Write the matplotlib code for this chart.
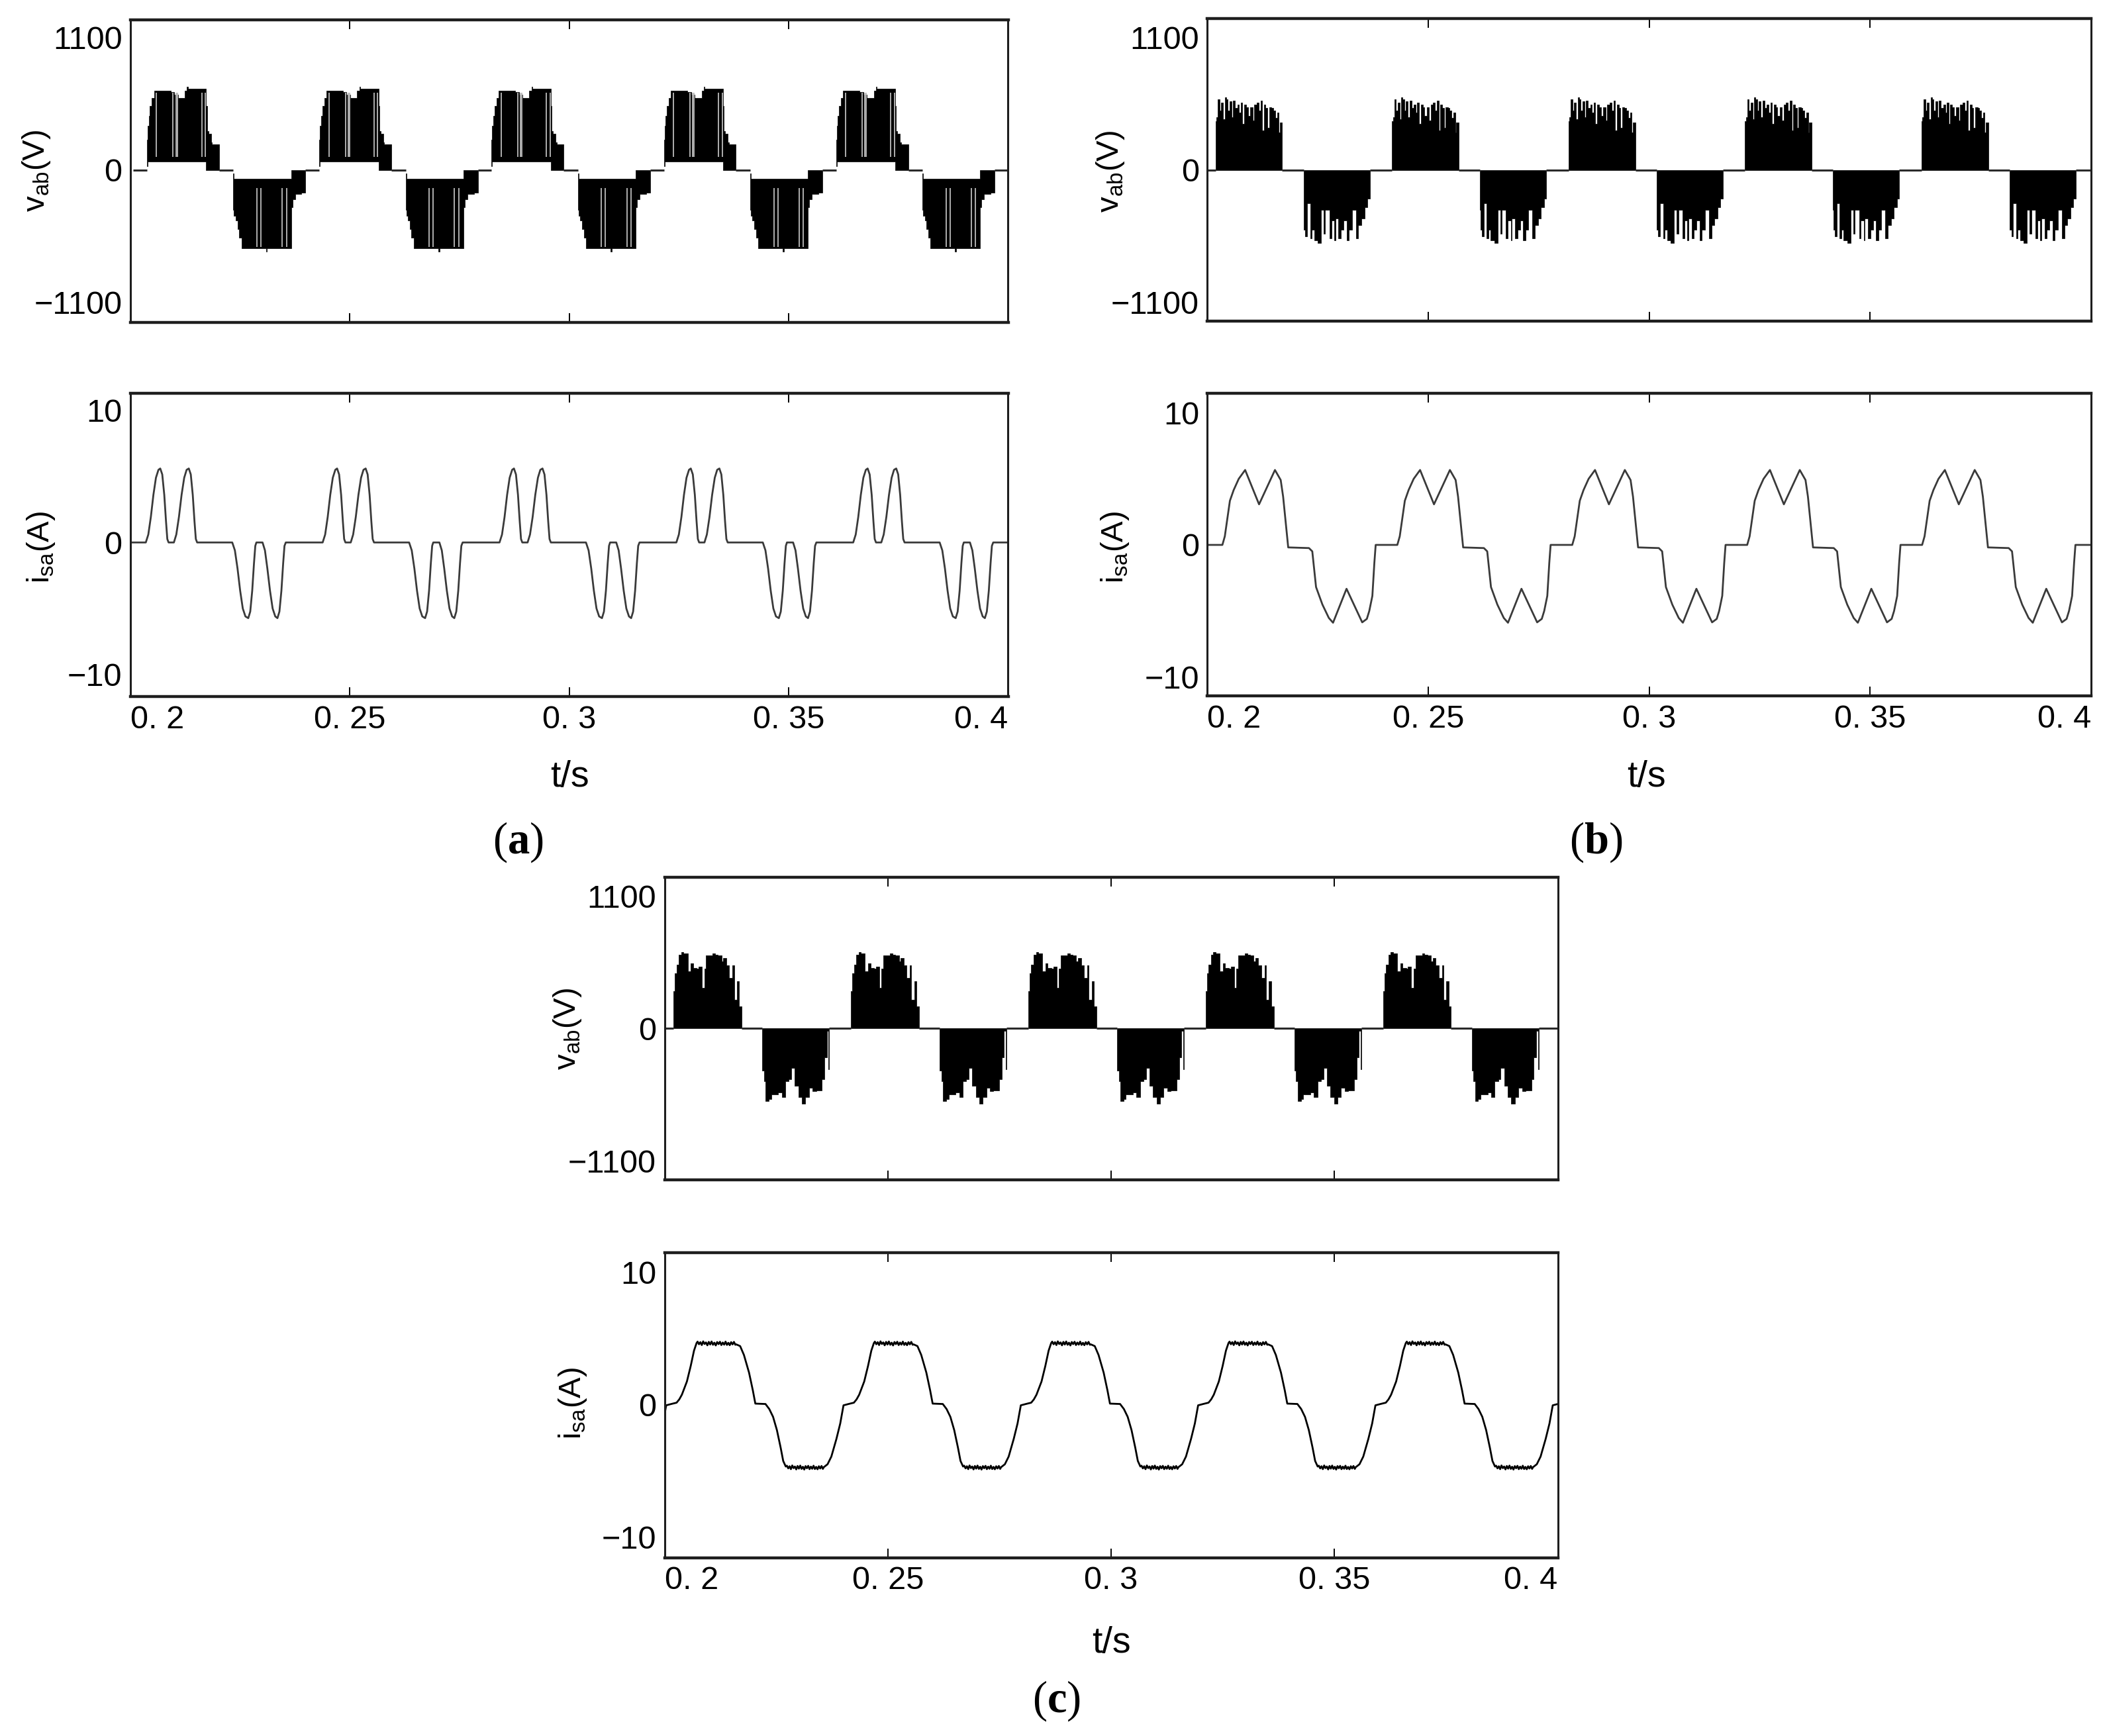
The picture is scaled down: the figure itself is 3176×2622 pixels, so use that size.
import numpy as np
import matplotlib
matplotlib.use('Agg')
import matplotlib.pyplot as plt

# figure size in pixels (dpi 100)
W, H = 3176, 2622
DPI = 100

plt.rcParams['font.family'] = 'Liberation Sans'
plt.rcParams['mathtext.fontset'] = 'custom'
plt.rcParams['mathtext.rm'] = 'Liberation Serif'
plt.rcParams['mathtext.bf'] = 'Liberation Serif:bold'

T_START, T_END = 0.2, 0.4
x_ticks = [0.2, 0.25, 0.3, 0.35, 0.4]
x_ticklabels = ['0. 2', '0. 25', '0. 3', '0. 35', '0. 4']
v_ticks = [-1100, 0, 1100]
v_ticklabels = ['\u22121100', '0', '1100']
i_ticks = [-10, 0, 10]
i_ticklabels = ['\u221210', '0', '10']

###############################
# (a) phase current, one period
###############################
# times in ms after t = 0.2 s, current in A
PERIOD_IA = 40.3
ia_t = [0, 3.5, 4.07, 4.65, 5.23, 5.81, 6.38, 6.79, 7.25, 7.71, 8.11, 8.40, 8.69,
        9.9, 10.45, 11.05, 11.65, 12.25, 12.8, 13.3, 13.75, 14.2, 14.6, 14.9, 15.2,
        23.2, 23.8, 24.4, 25.0, 25.6, 26.2, 26.85, 27.3, 27.75, 28.15, 28.45, 28.7,
        30.1, 30.65, 31.2, 31.8, 32.4, 33.0, 33.5, 33.95, 34.4, 34.8, 35.1, 35.4, 40.3]
ia_v = [0, 0, 0.6, 1.93, 3.6, 4.9, 5.5, 5.6, 5.15, 3.6, 1.57, 0.26, 0,
        0, 0.6, 1.93, 3.6, 4.9, 5.5, 5.6, 5.15, 3.6, 1.57, 0.26, 0,
        0, -0.6, -1.97, -3.65, -5.0, -5.6, -5.73, -5.23, -3.65, -1.58, -0.26, 0,
        0, -0.6, -1.97, -3.65, -5.0, -5.6, -5.73, -5.23, -3.65, -1.58, -0.26, 0, 0]

# (a) line voltage, one period: PWM blocks as envelopes (V)
PERIOD_VA = 39.25
va_pos_t = [3.79, 3.95, 4.2, 4.45, 4.9, 5.4, 9.2, 10.0, 10.8, 12.4, 12.9, 13.1,
            17.26, 17.5, 17.8, 18.4, 18.6, 20.22]
va_pos_hi = [250, 370, 450, 530, 600, 661, 650, 625, 597, 660, 693, 678,
             530, 322, 300, 229, 215, 0]
va_pos_lo = [30, 73, 73, 73, 73, 73, 73, 73, 73, 73, 73, 73, 0, 0, 0, 0, 0, 0]
va_neg_t = [23.45, 23.6, 24.0, 24.4, 24.8, 25.3, 30.9, 31.15, 36.65, 36.9, 37.5, 39.0, 39.9]
va_neg_lo = [-330, -380, -420, -490, -560, -650, -678, -650, -311, -245, -200, -190, 0]
va_neg_hi = [-30, -73, -73, -73, -73, -73, -73, -73, 0, 0, 0, 0, 0]
va_gaps_pos = [5.95, 9.72, 10.36, 10.69, 16.29, 17.1]
va_gaps_neg = [28.84, 29.76, 34.6, 35.58]

###############################
# (b)
###############################
PERIOD_IB = 39.6
ib_t = [0, 3.4, 3.95, 5.1, 5.95, 7.1, 8.55, 11.7, 15.3, 16.6, 17.15, 18.3, 23.0, 23.75,
        24.6, 26.05, 27.5, 28.45, 31.5, 35.05, 36.1, 36.65, 37.35, 37.8, 38.1, 39.6]
ib_v = [0, 0, 0.65, 3.34, 4.15, 5.0, 5.67, 3.07, 5.67, 4.91, 3.65, -0.19, -0.24, -0.49,
        -3.19, -4.52, -5.53, -5.89, -3.32, -5.86, -5.6, -5.0, -3.86, -1.36, 0, 0]

PERIOD_VB = 39.95
vb_pos_t = [1.85, 2.06, 2.38, 2.76, 3.13, 3.56, 3.93, 4.26, 4.63, 5.01,
            5.43, 5.81, 6.24, 6.77, 7.2, 7.58, 7.95, 8.38, 8.81, 9.18,
            9.72, 10.25, 10.63, 11.16, 11.59, 12.02, 12.39, 12.77, 13.2, 13.63,
            14.0, 14.54, 14.91, 15.34, 15.77, 16.14, 16.41, 16.84, 16.95]
vb_pos_hi = [403, 440, 587, 495, 559, 422, 605, 587, 495, 568,
             440, 577, 513, 540, 477, 559, 385, 540, 522, 449,
             522, 412, 540, 559, 495, 577, 330, 540, 513, 348,
             522, 513, 495, 431, 477, 312, 394, 394, 0]
vb_neg_t = [21.76, 21.87, 22.19, 22.57, 23.26, 23.64, 24.17, 24.98, 25.78, 26.32,
            26.69, 27.66, 28.08, 28.73, 28.99, 29.69, 30.22, 30.87, 31.51, 32.05,
            32.74, 33.65, 34.19, 34.88, 35.58, 36.22, 36.65, 36.76]
vb_neg_lo = [-330, -495, -550, -275, -568, -495, -587, -605, -330, -532,
             -330, -568, -422, -587, -403, -568, -495, -422, -587, -495,
             -330, -568, -460, -403, -312, -238, -238, 0]

###############################
# (c)
###############################
PERIOD_IC = 39.7
ic_rise_t = [0, 0.37, 1.5, 2.7, 3.3, 3.88, 5.01, 5.86, 6.6, 7.17]
ic_rise_v = [-0.75, -0.05, 0.05, 0.15, 0.4, 0.75, 1.75, 2.92, 4.08, 4.65]
ic_fall_t = [16.07, 16.93, 17.78, 18.92, 19.77, 20.33, 22.6, 23.45, 24.3, 25.16,
             26.0, 26.57, 27.14]
ic_fall_v = [4.55, 4.42, 3.75, 2.42, 1.08, 0.08, 0.05, -0.33, -0.92, -1.92,
             -3.25, -4.25, -4.67]
ic_back_t = [35.66, 36.5, 37.35, 38.49, 39.34, 39.7]
ic_back_v = [-4.72, -4.5, -3.92, -2.58, -1.42, -0.75]
IC_TOP, IC_BOTTOM = 4.62, -4.75
ic_ripple = [0.14, -0.06, 0.1, -0.12, 0.16, -0.04, 0.08, -0.14, 0.12, -0.08,
             0.15, -0.1, 0.06, -0.15, 0.11, -0.05, 0.13, -0.12, 0.07, -0.09,
             0.14, -0.11, 0.05, -0.13, 0.1, -0.07, 0.12, -0.1]

PERIOD_VC = 39.71
vc_pos_t = [2.01, 2.33, 2.70, 3.23, 3.76, 4.28, 4.66, 5.18, 5.87, 6.4,
            7.2, 7.62, 8.36, 8.89, 9.32, 10.8, 11.33, 11.96, 12.76, 13.13,
            13.82, 14.5, 15.25, 15.56, 16.2, 16.73, 17.26]
vc_pos_hi = [311, 458, 531, 614, 632, 623, 623, 476, 541, 504,
             495, 513, 339, 495, 605, 623, 614, 605, 559, 586,
             522, 421, 522, 238, 394, 183, 0]
vc_neg_t = [21.92, 22.02, 22.29, 22.66, 23.35, 23.88, 24.67, 25.46, 26.26, 27.05,
            27.85, 28.38, 29.17, 29.96, 30.76, 31.55, 32.35, 33.14, 33.94, 34.73,
            35.26, 35.79, 36.32, 36.74, 36.85]
vc_neg_lo = [-349, -349, -440, -605, -586, -550, -550, -532, -568, -440,
             -422, -330, -477, -568, -624, -568, -495, -522, -513, -513,
             -422, -238, -18, -339, 0]

N_CYCLES = 6


def cycles(t_ms, period_ms, first=0):
    t_ms = np.asarray(t_ms, dtype=float)
    return [T_START + (t_ms + k * period_ms) / 1000.0 for k in range(first, N_CYCLES)]


fig = plt.figure(figsize=(W / DPI, H / DPI), dpi=DPI)


def add_box(left, top, right, bottom):
    ax = fig.add_axes([left / W, 1 - bottom / H, (right - left) / W, (bottom - top) / H])
    ax.set_xlim(T_START, T_END)
    for side in ('top', 'bottom'):
        ax.spines[side].set_linewidth(3.2)
        ax.spines[side].set_color('#1e1e1e')
    for side in ('left', 'right'):
        ax.spines[side].set_linewidth(2.2)
        ax.spines[side].set_color('#1e1e1e')
    ax.set_xticks(x_ticks)
    ax.tick_params(axis='x', direction='in', top=True, length=10, width=1.4,
                   labelsize=35, pad=9)
    ax.tick_params(axis='y', length=0, labelsize=35, pad=9)
    return ax


def voltage_axes(box, ylim, pos, neg, period, gaps=()):
    ax = add_box(*box)
    ax.set_ylim(*ylim)
    ax.set_yticks(v_ticks)
    ax.set_yticklabels(v_ticklabels)
    ax.tick_params(axis='x', labelbottom=False)
    # zero level only between the switching blocks
    zero_gaps = [[neg[0][-1] - period, pos[0][0]], [pos[0][-1], neg[0][0]]]
    for seg in zero_gaps:
        for t in cycles(seg, period, first=0):
            ax.plot(t, np.zeros_like(t), color='#2a2a2a', lw=2.2,
                    solid_capstyle='butt')
    for t_ms, lo, hi in (pos, neg):
        for t in cycles(t_ms, period):
            ax.fill_between(t, lo, hi, step='post', color='black', lw=0.5)
    for g_t, g_lo, g_hi in gaps:
        for t in cycles(g_t, period):
            ax.vlines(t, g_lo, g_hi, colors='#bdbdbd', lw=1.3)
    return ax


def current_axes(box, ylim, t_ms, vals, period, color, lw):
    ax = add_box(*box)
    ax.set_ylim(*ylim)
    ax.set_yticks(i_ticks)
    ax.set_yticklabels(i_ticklabels)
    ax.set_xticklabels(x_ticklabels)
    labs = ax.get_xticklabels()
    labs[0].set_ha('left')
    labs[-1].set_ha('right')
    t = np.concatenate(cycles(t_ms, period))
    v = np.tile(np.asarray(vals, dtype=float), N_CYCLES)
    ax.plot(t, v, color=color, lw=lw, solid_joinstyle='round')
    return ax


# (a)
voltage_axes((197, 30, 1522.5, 487), (-1265, 1247),
             (va_pos_t, va_pos_lo, va_pos_hi), (va_neg_t, va_neg_lo, va_neg_hi),
             PERIOD_VA, gaps=[(va_gaps_pos, 110, 640), (va_gaps_neg, -640, -150)])
current_axes((197, 593.5, 1522.5, 1052.3), (-11.68, 11.32), ia_t, ia_v, PERIOD_IA,
             '#3a3a3a', 2.0)

# (b)
voltage_axes((1823.4, 28.3, 3157.7, 485), (-1256, 1256),
             (vb_pos_t, 0, vb_pos_hi), (vb_neg_t, vb_neg_lo, 0), PERIOD_VB)
current_axes((1823.4, 593.5, 3157.7, 1051.3), (-11.44, 11.5), ib_t, ib_v, PERIOD_IB,
             '#3a3a3a', 2.0)

# (c)
n_r = len(ic_ripple)
ic_t = (ic_rise_t + list(np.linspace(7.4, 15.85, n_r)) + ic_fall_t
        + list(np.linspace(27.4, 35.45, n_r)) + ic_back_t)
ic_v = (ic_rise_v + [IC_TOP + r for r in ic_ripple] + ic_fall_v
        + [IC_BOTTOM + r for r in ic_ripple] + ic_back_v)
voltage_axes((1003.6, 1324.7, 2352.6, 1782.4), (-1260, 1257),
             (vc_pos_t, 0, vc_pos_hi), (vc_neg_t, vc_neg_lo, 0), PERIOD_VC)
current_axes((1003.6, 1891.5, 2352.6, 2353), (-11.57, 11.5), ic_t, ic_v, PERIOD_IC,
             'black', 2.0)


# labels placed in pixel coordinates
def ftext(x, y, s, **kw):
    fig.text(x / W, 1 - y / H, s, ha='center', va='center', **kw)


v_label = r'$\mathregular{v_{ab}}$(V)'
i_label = r'$\mathregular{i_{sa}}$(A)'
for x, y in [(55, 258), (1677, 259), (857, 1554)]:
    ftext(x, y, v_label, rotation=90, fontsize=34)
for x, y in [(62, 826), (1684, 826), (865, 2119)]:
    ftext(x, y, i_label, rotation=90, fontsize=34)
for x, y in [(860, 1174), (2486, 1174), (1678, 2482)]:
    ftext(x, y, 't/s', fontsize=40)
for x, y, s in [(782, 1272, 'a'), (2410, 1272, 'b'), (1596, 2569, 'c')]:
    ftext(x, y, '($\\mathbf{%s}$)' % s, fontsize=48, family='Liberation Serif')

fig.savefig('out.png', dpi=DPI)
